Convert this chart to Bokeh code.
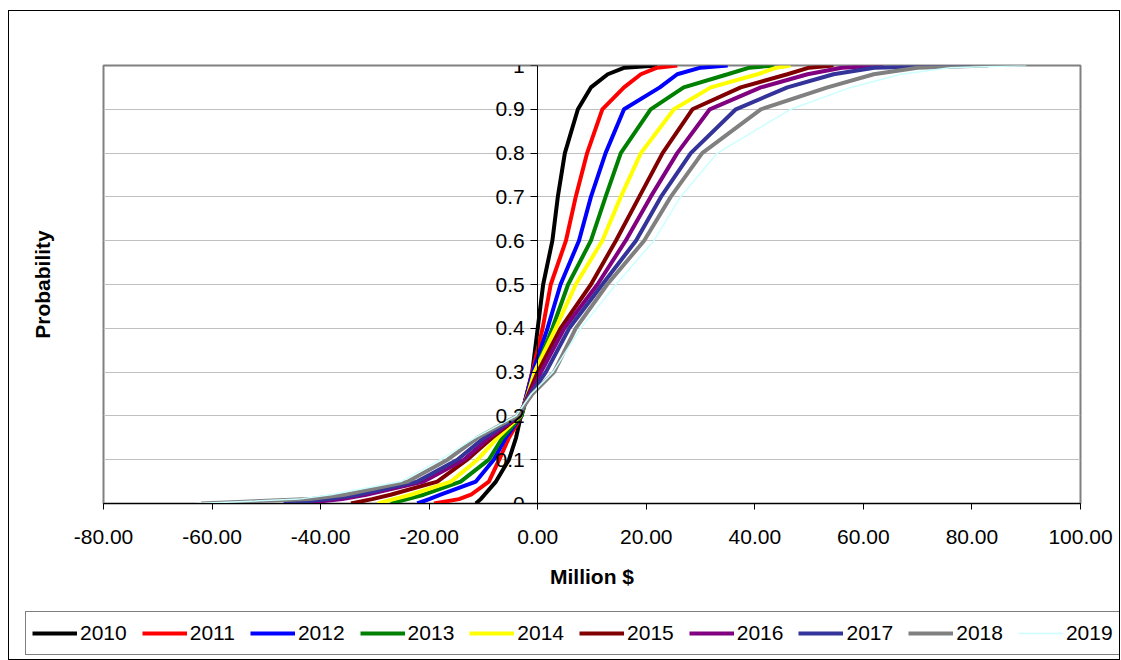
from bokeh.plotting import figure
from bokeh.layouts import column
from bokeh.models import Range1d, FixedTicker, LinearAxis, Legend, LegendItem
from bokeh.embed import file_html
from bokeh.resources import INLINE

# ---------------- data ----------------
probs = [0.0, 0.01, 0.02, 0.05, 0.10, 0.15, 0.20, 0.25, 0.30, 0.40, 0.50,
         0.60, 0.70, 0.80, 0.90, 0.95, 0.98, 0.995, 1.0]

years = ["2010", "2011", "2012", "2013", "2014",
         "2015", "2016", "2017", "2018", "2019"]

x_2010 = [-11.4, -10.5, -9.8, -7.7, -5.3, -4.0, -3.1, -2.0, -1.0, 0.0, 1.0,
          2.7, 3.7, 5.0, 7.4, 9.8, 12.9, 16.0, 22.0]
x_2011 = [-19.1, -14.5, -12.3, -9.0, -7.1, -5.3, -3.0, -2.0, -1.0, 0.9, 2.4,
          5.2, 7.0, 9.1, 11.9, 15.9, 19.0, 22.0, 25.7]
x_2012 = [-22.2, -20.0, -17.9, -11.4, -8.1, -5.9, -3.0, -2.0, -0.9, 1.8, 4.2,
          7.6, 9.8, 12.5, 15.9, 22.5, 25.7, 30.0, 35.0]
x_2013 = [-27.1, -24.0, -21.0, -14.2, -9.0, -6.5, -3.0, -1.8, -0.5, 2.7, 5.6,
          9.8, 12.5, 15.3, 20.8, 26.9, 35.0, 39.0, 43.6]
x_2014 = [-29.5, -26.5, -23.4, -16.0, -11.1, -7.4, -3.2, -1.8, -0.6, 3.3, 7.0,
          11.9, 15.3, 19.0, 25.1, 31.9, 40.5, 44.0, 46.6]
x_2015 = [-34.4, -30.5, -27.1, -18.5, -13.0, -8.4, -3.3, -1.7, 0.0, 4.2, 9.8,
          14.4, 18.7, 23.0, 28.5, 37.4, 46.0, 50.0, 54.5]
x_2016 = [-43.7, -36.0, -31.6, -21.0, -13.6, -9.0, -3.4, -1.5, 0.6, 4.9, 11.0,
          16.2, 20.8, 25.7, 31.7, 41.1, 49.7, 56.0, 63.7]
x_2017 = [-46.8, -38.5, -33.2, -22.2, -14.8, -9.9, -3.6, -1.3, 1.5, 5.8, 11.9,
          18.1, 22.7, 28.2, 36.5, 46.0, 54.5, 62.0, 80.0]
x_2018 = [-62.0, -42.0, -35.6, -23.9, -16.6, -11.1, -3.8, -1.0, 3.0, 7.0, 12.8,
          19.6, 24.5, 30.3, 41.1, 53.4, 61.9, 70.0, 83.0]
x_2019 = [-63.0, -44.0, -38.1, -25.2, -17.9, -11.6, -4.0, -1.2, 2.8, 7.9, 14.4,
          21.4, 26.3, 33.1, 46.6, 57.7, 66.9, 76.0, 90.0]

series = [x_2010, x_2011, x_2012, x_2013, x_2014,
          x_2015, x_2016, x_2017, x_2018, x_2019]

x_ticks = [-80, -60, -40, -20, 0, 20, 40, 60, 80, 100]
x_tick_labels = ["-80.00", "-60.00", "-40.00", "-20.00", "0.00",
                 "20.00", "40.00", "60.00", "80.00", "100.00"]
y_ticks = [0, 0.1, 0.2, 0.3, 0.4, 0.5, 0.6, 0.7, 0.8, 0.9, 1]
y_tick_labels = ["0", "0.1", "0.2", "0.3", "0.4", "0.5",
                 "0.6", "0.7", "0.8", "0.9", "1"]

# ---------------- style ----------------
colors = ["#000000", "#FF0000", "#0000FF", "#008000", "#FFFF00",
          "#800000", "#800080", "#333399", "#808080", "#CCFFFF"]
widths = [4, 4, 4, 4, 4, 4, 4, 4, 4, 1.5]
FONT = "Liberation Sans"

p = figure(width=1110, height=589,
           x_range=Range1d(-80, 100), y_range=Range1d(0, 1),
           output_backend="svg", toolbar_location=None,
           min_border_left=94, min_border_top=54,
           min_border_right=39, min_border_bottom=97,
           background_fill_color="white", border_fill_color="white")
p.frame_align = False

p.outline_line_color = "#808080"
p.outline_line_width = 2

# grid
p.xgrid.visible = False
yt = FixedTicker(ticks=y_ticks)
p.ygrid.ticker = yt
p.ygrid.grid_line_color = "#C0C0C0"
p.ygrid.grid_line_width = 1

# x axis
xax = p.xaxis[0]
xax.ticker = FixedTicker(ticks=x_ticks)
xax.major_label_overrides = dict(zip(x_ticks, x_tick_labels))
xax.axis_line_color = "black"
xax.major_tick_line_color = "black"
xax.major_tick_out = 6
xax.major_tick_in = 0
xax.minor_tick_line_color = None
xax.major_label_text_font = FONT
xax.major_label_text_font_size = "21px"
xax.major_label_text_color = "black"
xax.major_label_standoff = 20
xax.axis_label = "Million $"
xax.axis_label_text_font = FONT
xax.axis_label_text_font_size = "21px"
xax.axis_label_text_font_style = "bold"
xax.axis_label_text_color = "black"
xax.axis_label_standoff = 18

# y axis (crossing at x = 0)
yax = p.yaxis[0]
yax.fixed_location = 0
yax.ticker = yt
yax.major_label_overrides = dict(zip(y_ticks, y_tick_labels))
yax.axis_line_color = "black"
yax.major_tick_line_color = "black"
yax.major_tick_out = 7
yax.major_tick_in = 0
yax.minor_tick_line_color = None
yax.major_label_text_font = FONT
yax.major_label_text_font_size = "21px"
yax.major_label_text_color = "black"
yax.major_label_standoff = 6

# y axis title on the far left
lab = LinearAxis(ticker=FixedTicker(ticks=[]), axis_label="Probability",
                 axis_line_color=None, major_tick_line_color=None,
                 minor_tick_line_color=None,
                 axis_label_text_font=FONT, axis_label_text_font_size="21px",
                 axis_label_text_font_style="bold",
                 axis_label_text_color="black", axis_label_standoff=50)
p.add_layout(lab, "left")

for xs, c, w in zip(series, colors, widths):
    p.line(xs, probs, line_color=c, line_width=w)

# ---------------- legend strip ----------------
q = figure(width=1110, height=59,
           x_range=Range1d(1000, 1001), y_range=Range1d(0, 1),
           output_backend="svg", toolbar_location=None,
           x_axis_location=None, y_axis_location=None, min_border=0,
           background_fill_color="white", border_fill_color="white")
q.frame_align = False
q.grid.visible = False
q.outline_line_color = None

items = []
for yr, xs, c, w in zip(years, series, colors, widths):
    r = q.line(xs, probs, line_color=c, line_width=w)
    items.append(LegendItem(label=yr, renderers=[r]))

legend = Legend(items=items, orientation="horizontal",
                location=(16, 4),
                border_line_color="black", border_line_width=1,
                background_fill_color="white", background_fill_alpha=1,
                label_text_font=FONT, label_text_font_size="21px",
                label_text_color="black",
                glyph_width=45, glyph_height=30, label_height=30,
                label_standoff=3, spacing=15, padding=6, margin=0)
q.add_layout(legend, "center")

layout = column(p, q, spacing=0,
                styles={"border": "1px solid black", "margin-left": "8px",
                        "margin-top": "10px"})

open("out.html", "w").write(file_html(layout, INLINE))
